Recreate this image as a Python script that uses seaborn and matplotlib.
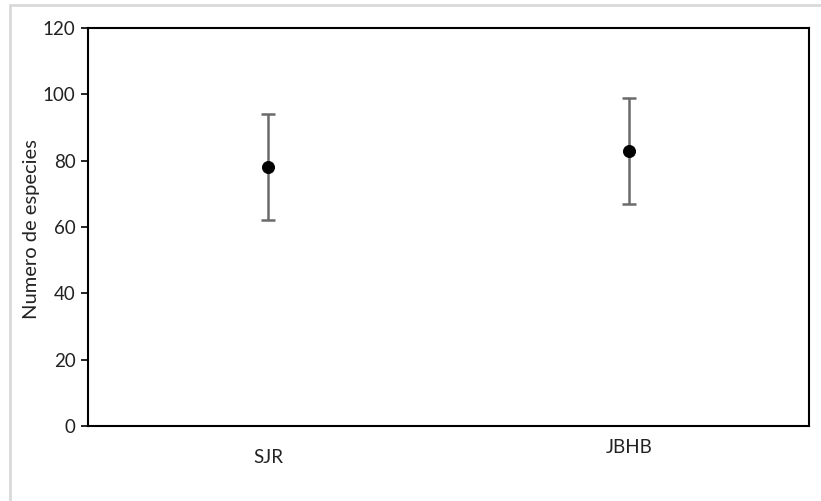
import matplotlib
matplotlib.use("Agg")
import matplotlib.pyplot as plt
import seaborn as sns
import pandas as pd
from matplotlib.lines import Line2D

# data
sites = ["SJR", "JBHB"]
species_mean = [78, 83]
species_err = [16, 16]

df = pd.DataFrame({"site": sites, "mean": species_mean, "err": species_err})

sns.set_style("white")
plt.rcParams["font.family"] = ["Lato", "DejaVu Sans"]

fig = plt.figure(figsize=(8.21, 5.01), dpi=100)
ax = fig.add_axes([88 / 821, 1 - 426 / 501, (809 - 88) / 821, (426 - 28) / 501])

xpos = list(range(len(df)))
ax.errorbar(xpos, df["mean"], yerr=df["err"], fmt="none", ecolor="#6b6b6b",
            elinewidth=1.8, capsize=5, capthick=1.8, zorder=2)
sns.scatterplot(x=xpos, y=df["mean"], ax=ax, color="black", s=75,
                edgecolor="black", zorder=3, legend=False)

ax.set_xlim(-0.5, 1.5)
ax.set_ylim(0, 120)
ax.set_yticks(range(0, 121, 20))
ax.set_xticks(xpos)
ax.set_xticklabels(df["site"])
ax.set_ylabel("Numero de especies", fontsize=14.5, color="#222222")
ax.yaxis.set_label_coords((40 - 88) / 721, 0.495)
ax.set_xlabel("")

for s in ax.spines.values():
    s.set_visible(True)
    s.set_color("black")
    s.set_linewidth(1.5)

ax.tick_params(axis="y", which="major", left=True, length=5, width=1.2,
               color="black", labelsize=13.5, pad=4, labelcolor="#222222")
ax.tick_params(axis="x", which="major", bottom=False, labelsize=13.5,
               labelcolor="#222222")
# the two category labels sit at different heights in the original
ticks = ax.xaxis.get_major_ticks()
ticks[0].set_pad(13)
ticks[1].set_pad(6)

# light frame of the chart area
fig.add_artist(Line2D([10 / 821, 10 / 821], [0, 1 - 5 / 501],
                      transform=fig.transFigure, color="#d9d9d9", lw=2))
fig.add_artist(Line2D([10 / 821, 1], [1 - 5 / 501, 1 - 5 / 501],
                      transform=fig.transFigure, color="#d9d9d9", lw=2))

fig.savefig("out.png", dpi=100)
